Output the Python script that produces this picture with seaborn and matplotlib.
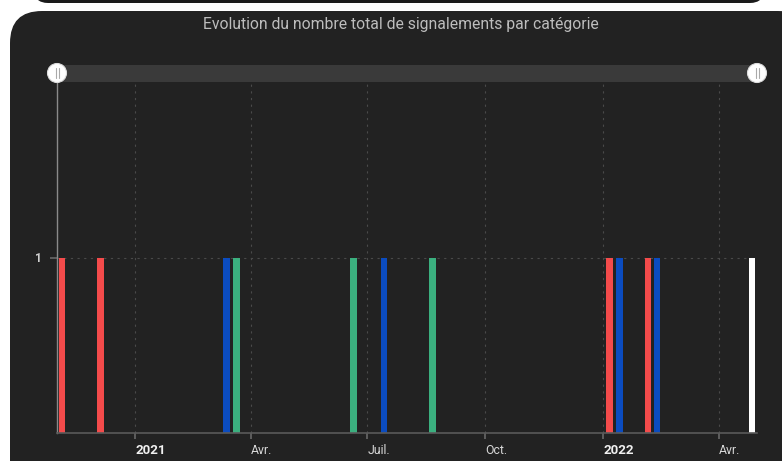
import matplotlib
matplotlib.use("Agg")
import matplotlib.pyplot as plt
import matplotlib.dates as mdates
from matplotlib.patches import FancyBboxPatch, Circle, Rectangle
import matplotlib.transforms as mtransforms
import numpy as np
import pandas as pd
import seaborn as sns

# Weekly report counts per category
dates = ["2020-11-05", "2020-12-05", "2021-03-13", "2021-03-21", "2021-06-20",
         "2021-07-14", "2021-08-21", "2022-01-06", "2022-01-14", "2022-02-05",
         "2022-02-12", "2022-04-27"]
categories = ["Catégorie 1", "Catégorie 1", "Catégorie 2", "Catégorie 3", "Catégorie 3",
              "Catégorie 2", "Catégorie 3", "Catégorie 1", "Catégorie 2", "Catégorie 1",
              "Catégorie 2", "Catégorie 4"]
counts = [1, 1, 1, 1, 1, 1, 1, 1, 1, 1, 1, 1]

palette = {"Catégorie 1": "#f44b4b", "Catégorie 2": "#0b4cc0",
           "Catégorie 3": "#3bb07f", "Catégorie 4": "#ffffff"}

tick_dates = ["2021-01-01", "2021-04-01", "2021-07-01", "2021-10-01", "2022-01-01", "2022-04-01"]
tick_labels = ["2021", "Avr.", "Juil.", "Oct.", "2022", "Avr."]

df = pd.DataFrame({
    "date": mdates.date2num(pd.to_datetime(dates)),
    "categorie": categories,
    "nombre": counts,
})

sns.set_theme(style="dark")
plt.rcParams["font.family"] = ["Roboto", "DejaVu Sans"]

W, H = 782, 461
fig = plt.figure(figsize=(W / 100, H / 100), dpi=100)
fig.patch.set_facecolor("white")

def fx(px):
    return px / W

def fy(py):
    return 1 - py / H

# Background layer in pixel coordinates
bg = fig.add_axes([0, 0, 1, 1], zorder=-5)
bg.set_xlim(0, W)
bg.set_ylim(H, 0)
bg.axis("off")
bg.add_patch(FancyBboxPatch((34, -40), 730, 43,
                            boxstyle="round,pad=0,rounding_size=14",
                            facecolor="#1a1a1a", edgecolor="none"))
bg.add_patch(FancyBboxPatch((10, 11), 800, 500,
                            boxstyle="round,pad=0,rounding_size=32",
                            facecolor="#222222", edgecolor="none"))
bg.text(401, 25, "Evolution du nombre total de signalements par catégorie",
        ha="center", va="center", color="#bdbdbd", fontsize=11.3)
# Range slider track
bg.add_patch(Rectangle((57, 65), 700, 17, facecolor="#3a3a3a", edgecolor="none"))

# Plot area
ax = fig.add_axes([fx(57), fy(433), fx(700), fy(82) - fy(433)], zorder=0)
ax.set_facecolor("none")

sns.barplot(data=df, x="date", y="nombre", hue="categorie", palette=palette,
            native_scale=True, dodge=False, width=0.75, linewidth=0,
            saturation=1, legend=False, errorbar=None, ax=ax)

x0 = mdates.date2num(pd.Timestamp("2020-11-01"))
x1 = mdates.date2num(pd.Timestamp("2022-05-01"))
ax.set_xlim(x0, x1)
ax.set_ylim(0, 2)

ticks = mdates.date2num(pd.to_datetime(tick_dates))
ax.set_xticks(ticks)
ax.set_xticklabels(tick_labels)
shift = mtransforms.ScaledTranslation(3 / 100, 0, fig.dpi_scale_trans)
for lab, txt in zip(ax.get_xticklabels(), tick_labels):
    lab.set_horizontalalignment("left")
    lab.set_transform(lab.get_transform() + shift)
    if txt.isdigit():
        lab.set_fontweight("bold")
        lab.set_color("#f0f0f0")
        lab.set_fontsize(9.5)
    else:
        lab.set_color("#d8d8d8")
        lab.set_fontsize(8.8)
ax.set_yticks([1])
ax.set_yticklabels(["1"], color="#d0d0d0", fontsize=8.5, fontweight="bold")
ax.tick_params(axis="x", length=4, color="#666666", pad=4, bottom=True)
ax.tick_params(axis="y", length=5, color="#666666", pad=6, left=True)

ax.grid(True, axis="both", color="#4a4a4a", linestyle=(0, (2, 4)), linewidth=0.8)
ax.set_axisbelow(True)
ax.set_xlabel("")
ax.set_ylabel("")
for side in ["top", "right"]:
    ax.spines[side].set_visible(False)
ax.spines["left"].set_color("#8a8a8a")
ax.spines["bottom"].set_color("#5a5a5a")
ax.spines["left"].set_linewidth(1)
ax.spines["bottom"].set_linewidth(1.2)

# Slider handles drawn on top
fg = fig.add_axes([0, 0, 1, 1], zorder=5)
fg.set_xlim(0, W)
fg.set_ylim(H, 0)
fg.set_aspect("equal")
fg.axis("off")
fg.patch.set_alpha(0)
for hx in (57, 757):
    fg.add_patch(Circle((hx, 73), 9.5, facecolor="white", edgecolor="#dddddd", lw=0.8))
    for dx in (-1.5, 1.5):
        fg.plot([hx + dx, hx + dx], [68, 78], color="#aaaaaa", lw=0.8)

fig.savefig("out.png", dpi=100, facecolor=fig.get_facecolor())
